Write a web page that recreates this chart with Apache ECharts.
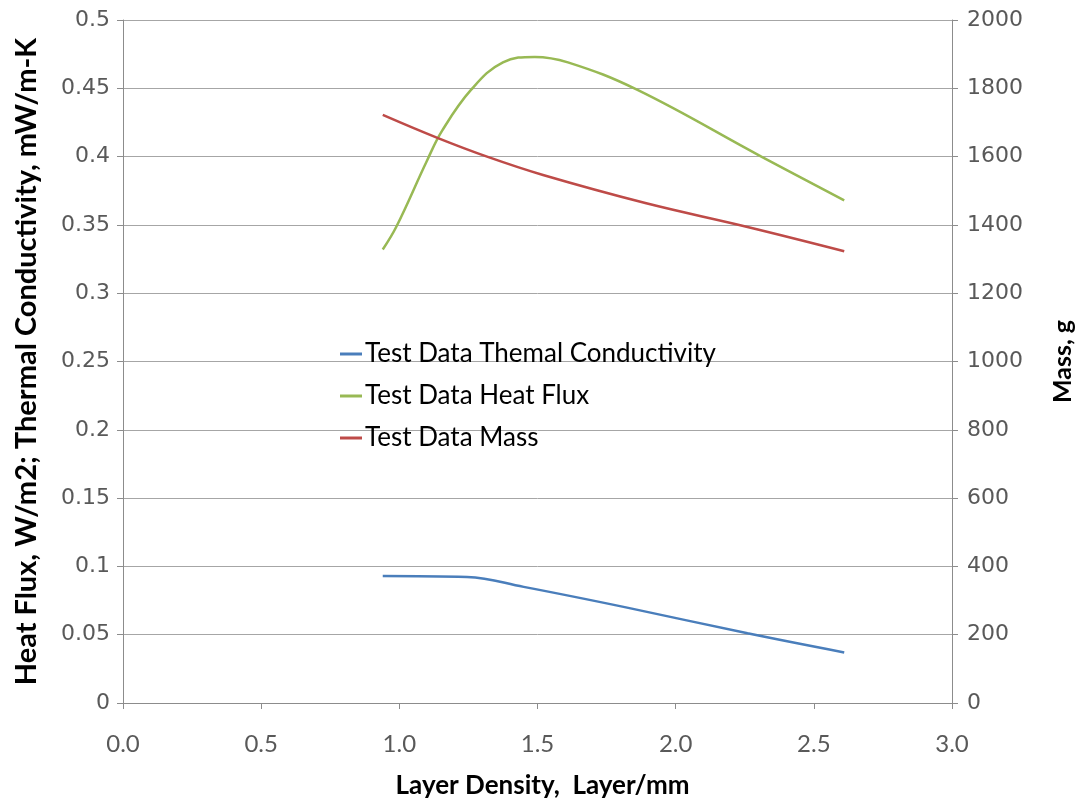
<!DOCTYPE html>
<html>
<head>
<meta charset="utf-8">
<script src="https://cdn.jsdelivr.net/npm/echarts@6/dist/echarts.min.js"></script>
<style>
  html, body { margin: 0; padding: 0; background: #fff; }
  #chart { width: 1082px; height: 803px; }
</style>
</head>
<body>
<div id="chart"></div>
<script>
// values: [layer density, value]
const conductivity = [
  [0.94, 0.093], [1.245, 0.0922], [1.45, 0.085], [1.82, 0.070], [2.26, 0.051], [2.61, 0.037]
]
const heatFlux = [
  [0.94, 0.332], [0.99, 0.349], [1.10, 0.397], [1.155, 0.419], [1.26, 0.449], [1.375, 0.469],
  [1.49, 0.473], [1.61, 0.469], [1.86, 0.449], [2.31, 0.400], [2.61, 0.368]
]
const mass = [
  [0.94, 1722], [1.14, 1654], [1.32, 1599], [1.52, 1546], [1.89, 1464], [2.26, 1394], [2.61, 1323]
]
const seriesNames = ['Test Data Themal Conductivity', 'Test Data Heat Flux', 'Test Data Mass']

const chart = echarts.init(document.getElementById('chart'))

const narrow = 'Lato, "Open Sans", sans-serif'
const tickFont = { fontFamily: 'DejaVu Sans', fontSize: 22, color: '#595959' }
const gridLine = { lineStyle: { color: '#a6a6a6', width: 1 } }
const axisLine = { show: true, lineStyle: { color: '#8c8c8c', width: 1 } }

chart.setOption({
  animation: false,
  grid: { left: 123, right: 130, top: 20, bottom: 100, outerBoundsMode: 'none' },
  legend: {
    orient: 'vertical',
    left: 340,
    top: 341,
    padding: 0,
    icon: 'rect',
    itemWidth: 22,
    itemHeight: 3,
    itemGap: 16,
    textStyle: { fontFamily: narrow, fontSize: 26, color: '#000', padding: [0, 0, 0, -2] },
    data: seriesNames
  },
  xAxis: {
    type: 'value',
    min: 0, max: 3, interval: 0.5,
    name: 'Layer Density,  Layer/mm',
    nameLocation: 'middle',
    nameGap: 70,
    nameTextStyle: { fontFamily: narrow, fontSize: 26, fontWeight: 'bold', color: '#000', padding: [0, 0, 0, 10] },
    axisLine: axisLine,
    axisTick: { show: true, length: 6, lineStyle: { color: '#8c8c8c' } },
    axisLabel: { margin: 29, formatter: v => v.toFixed(1), fontFamily: narrow, fontSize: 24, color: '#595959' },
    splitLine: { show: false }
  },
  yAxis: [
    {
      type: 'value',
      min: 0, max: 0.5, interval: 0.05,
      name: 'Heat Flux, W/m2; Thermal Conductivity, mW/m-K',
      nameLocation: 'middle',
      nameGap: 82,
      nameTextStyle: { fontFamily: narrow, fontSize: 29, fontWeight: 'bold', color: '#000' },
      axisLine: axisLine,
      axisTick: { show: true, inside: false, length: 6, lineStyle: { color: '#8c8c8c' } },
      axisLabel: Object.assign({ margin: 13, formatter: v => String(+v.toFixed(2)) }, tickFont),
      splitLine: gridLine
    },
    {
      type: 'value',
      min: 0, max: 2000, interval: 200,
      name: 'Mass, g',
      nameLocation: 'middle',
      nameGap: 98,
      nameRotate: 90,
      nameTextStyle: { fontFamily: narrow, fontSize: 25, fontWeight: 'bold', color: '#000' },
      axisLine: axisLine,
      axisTick: { show: true, length: 6, lineStyle: { color: '#8c8c8c' } },
      axisLabel: Object.assign({ margin: 15, formatter: v => String(v) }, tickFont),
      splitLine: { show: false }
    }
  ],
  series: [
    {
      name: seriesNames[0], type: 'line', yAxisIndex: 0, smooth: 0.4, showSymbol: false,
      lineStyle: { color: '#4a7ebb', width: 2.5 }, itemStyle: { color: '#4a7ebb' },
      data: conductivity
    },
    {
      name: seriesNames[1], type: 'line', yAxisIndex: 0, smooth: 0.4, showSymbol: false,
      lineStyle: { color: '#98b954', width: 2.5 }, itemStyle: { color: '#98b954' },
      data: heatFlux
    },
    {
      name: seriesNames[2], type: 'line', yAxisIndex: 1, smooth: 0.4, showSymbol: false,
      lineStyle: { color: '#be4b48', width: 2.5 }, itemStyle: { color: '#be4b48' },
      data: mass
    }
  ]
})
</script>
</body>
</html>
